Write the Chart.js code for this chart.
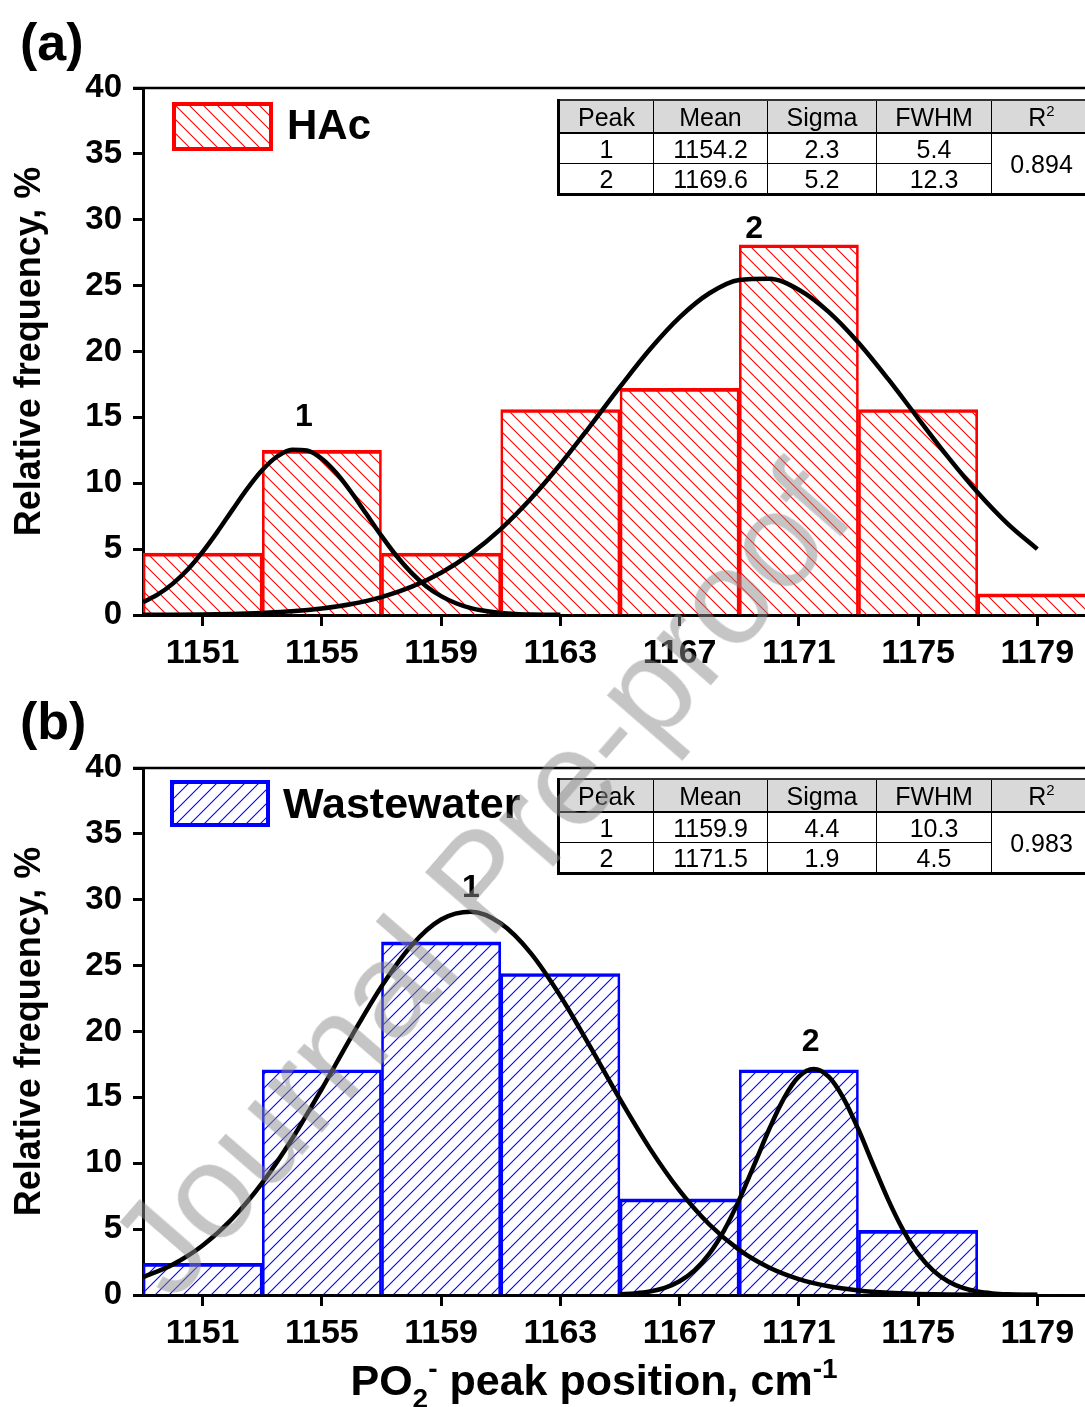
<!DOCTYPE html>
<html><head><meta charset="utf-8">
<script src="https://cdn.jsdelivr.net/npm/chart.js@4.4.0/dist/chart.umd.min.js"></script>
<style>
html,body{margin:0;padding:0;background:#fff;}
body{width:1085px;height:1407px;position:relative;overflow:hidden;font-family:"Liberation Sans",Arial,sans-serif;color:#000;}
canvas{position:absolute;left:0;}
canvas.sw{box-sizing:border-box;border:4px solid;}
.panel{position:absolute;font-weight:bold;font-size:52px;line-height:52px;}
.legtxt{position:absolute;font-weight:bold;font-size:42px;line-height:42px;white-space:nowrap;}
table.fit{position:absolute;left:557px;border-collapse:collapse;table-layout:fixed;width:533px;font-size:25px;}
table.fit td,table.fit th{border:1.5px solid #000;text-align:center;padding:0;font-weight:normal;line-height:24px;}
table.fit th{background:#d9d9d9;height:31px;border-bottom:2.5px solid #000;}
table.fit td{height:29px;}
table.fit tr>*:first-child{border-left:3px solid #000;}
table.fit tr:first-child>*{border-top:2px solid #333;}
table.fit tr:last-child>*, table.fit td.r2{border-bottom:3px solid #000;}
table.fit sup{font-size:15px;line-height:0;vertical-align:10px;}
.xtitle{position:absolute;left:0;width:1188px;text-align:center;top:1359px;font-weight:bold;font-size:43px;line-height:43px;white-space:nowrap;}
.xtitle .sb{font-size:28px;position:relative;top:13px;}
.xtitle .sp{font-size:28px;position:relative;top:-17px;}
.wm{position:absolute;left:480px;top:880px;transform:translate(-50%,-50%) rotate(-49deg);font-size:135px;line-height:135px;color:rgba(140,140,140,0.5);white-space:nowrap;pointer-events:none;}
</style></head>
<body>
<canvas id="cA" width="1085" height="690" style="top:0px"></canvas>
<canvas id="cB" width="1085" height="690" style="top:680px"></canvas>

<div class="panel" style="left:20px;top:16px">(a)</div>
<div class="panel" style="left:20px;top:695px">(b)</div>

<canvas class="sw" id="swA" width="93" height="41" style="left:172px;top:102px;width:101px;height:49px;border-color:#ff0000"></canvas>
<div class="legtxt" style="left:287px;top:104px">HAc</div>
<canvas class="sw" id="swB" width="92" height="39" style="left:170px;top:780px;width:100px;height:47px;border-color:#0000ff"></canvas>
<div class="legtxt" style="left:283px;top:782px;font-size:43px">Wastewater</div>

<table class="fit" id="tA" style="top:99px"></table>
<table class="fit" id="tB" style="top:778px"></table>

<div class="xtitle">PO<span class="sb">2</span><span class="sp">-</span> peak position, cm<span class="sp">-1</span></div>

<div class="wm">Journal Pre-proof</div>

<script>
// ---------------- data ----------------
const binCenters = [1151, 1155, 1159, 1163, 1167, 1171, 1175, 1179];
const xTickValues = [1151, 1155, 1159, 1163, 1167, 1171, 1175, 1179];
const yTickStep = 5;

const hacFreq = [4.7, 12.5, 4.7, 15.6, 17.2, 28.1, 15.6, 1.6];
const wwFreq  = [2.4, 17.1, 26.8, 24.4, 7.3, 17.1, 4.9, 0];

// fitted curves
const hacFit1X = [1149,1149.5,1150,1150.5,1151,1151.5,1152,1152.5,1153,1153.5,1154,1154.5,1155,1155.5,1156,1156.5,1157,1157.5,1158,1158.5,1159,1159.5,1160,1160.5,1161,1161.5,1162,1162.5,1163];
const hacFit1Y = [0.98,1.56,2.38,3.45,4.79,6.33,7.98,9.59,11.0,12.03,12.55,12.49,11.86,10.74,9.28,7.64,6.01,4.50,3.22,2.19,1.43,0.89,0.52,0.30,0.16,0.08,0.04,0.02,0.01];

const hacFit2X = [1149,1150,1151,1152,1153,1154,1155,1156,1157,1158,1159,1160,1161,1162,1163,1164,1165,1166,1167,1168,1169,1170,1171,1172,1173,1174,1175,1176,1177,1178,1179];
const hacFit2Y = [0.01,0.02,0.04,0.08,0.16,0.28,0.50,0.84,1.36,2.13,3.21,4.66,6.52,8.80,11.44,14.34,17.31,20.15,22.59,24.42,25.43,25.52,24.69,23.01,20.67,17.90,14.93,12.0,9.30,6.94,5.00];

const wwFit1X = [1149,1150,1151,1152,1153,1154,1155,1156,1157,1158,1159,1160,1161,1162,1163,1164,1165,1166,1167,1168,1169,1170,1171,1172,1173,1174,1175,1176,1177,1178,1179];
const wwFit1Y = [1.35,2.32,3.76,5.81,8.51,11.84,15.65,19.65,23.42,26.51,28.50,29.09,28.20,25.97,22.70,18.85,14.86,11.13,7.92,5.35,3.43,2.09,1.21,0.66,0.35,0.17,0.08,0.03,0.01,0.0,0.0];

const wwFit2X = [1165,1165.5,1166,1166.5,1167,1167.5,1168,1168.5,1169,1169.5,1170,1170.5,1171,1171.5,1172,1172.5,1173,1173.5,1174,1174.5,1175,1175.5,1176,1176.5,1177,1177.5,1178,1178.5,1179];
const wwFit2Y = [0.05,0.12,0.26,0.54,1.04,1.87,3.14,4.93,7.22,9.86,12.56,14.93,16.57,17.15,16.57,14.93,12.56,9.86,7.22,4.93,3.14,1.87,1.04,0.54,0.26,0.12,0.05,0.02,0.01];

// fit tables
const tablePeaks = ['1', '2'];
const hacMean  = ['1154.2', '1169.6'];
const hacSigma = ['2.3', '5.2'];
const hacFWHM  = ['5.4', '12.3'];
const hacR2    = '0.894';
const wwMean   = ['1159.9', '1171.5'];
const wwSigma  = ['4.4', '1.9'];
const wwFWHM   = ['10.3', '4.5'];
const wwR2     = '0.983';

// peak labels
const hacPeakText = ['1', '2'];
const hacPeakAt   = [[1154.4, 15.0], [1169.5, 29.3]];
const wwPeakText  = ['1', '2'];
const wwPeakAt    = [[1160.0, 30.9], [1171.4, 19.2]];

// ---------------- tables ----------------
function buildTable(id, mean, sigma, fwhm, r2) {
  let h = '<colgroup><col style="width:95px"><col style="width:114px"><col style="width:109px"><col style="width:115px"><col style="width:100px"></colgroup>';
  h += '<tr><th>Peak</th><th>Mean</th><th>Sigma</th><th>FWHM</th><th>R<sup>2</sup></th></tr>';
  tablePeaks.forEach((p, i) => {
    h += '<tr><td>' + p + '</td><td>' + mean[i] + '</td><td>' + sigma[i] + '</td><td>' + fwhm[i] + '</td>' +
      (i === 0 ? '<td class="r2" rowspan="2">' + r2 + '</td>' : '') + '</tr>';
  });
  document.getElementById(id).innerHTML = h;
}
buildTable('tA', hacMean, hacSigma, hacFWHM, hacR2);
buildTable('tB', wwMean, wwSigma, wwFWHM, wwR2);

// ---------------- chart ----------------
const FONT = '"Liberation Sans", Arial, sans-serif';

function hatchTile(color, dir) {
  const s = 14;
  const c = document.createElement('canvas');
  c.width = s; c.height = s;
  const g = c.getContext('2d');
  g.strokeStyle = color; g.lineWidth = 1.1;
  g.beginPath();
  if (dir === 'back') {
    g.moveTo(-1, -1); g.lineTo(s + 1, s + 1);
    g.moveTo(-1, s - 1); g.lineTo(1, s + 1);
    g.moveTo(s - 1, -1); g.lineTo(s + 1, 1);
  } else {
    g.moveTo(-1, s + 1); g.lineTo(s + 1, -1);
    g.moveTo(-1, 1); g.lineTo(1, -1);
    g.moveTo(s - 1, s + 1); g.lineTo(s + 1, s - 1);
  }
  g.stroke();
  return c;
}
function hatch(ctx, color, dir) { return ctx.createPattern(hatchTile(color, dir), 'repeat'); }

function drawSwatch(id, color, dir) {
  const cv = document.getElementById(id), g = cv.getContext('2d');
  g.fillStyle = '#fff'; g.fillRect(0, 0, cv.width, cv.height);
  g.fillStyle = hatch(g, color, dir); g.fillRect(0, 0, cv.width, cv.height);
}
drawSwatch('swA', '#ff0000', 'back');
drawSwatch('swB', '#0000ff', 'fwd');

const framePlugin = {
  id: 'frameTop',
  afterDraw(chart) {
    const a = chart.chartArea, ctx = chart.ctx;
    ctx.save();
    ctx.strokeStyle = '#000'; ctx.lineWidth = 2.5;
    ctx.beginPath(); ctx.moveTo(a.left - 10, a.top); ctx.lineTo(a.right, a.top); ctx.stroke();
    ctx.restore();
  }
};

function peakPlugin(texts, at) {
  return {
    id: 'peakLabels',
    afterDatasetsDraw(chart) {
      const ctx = chart.ctx, xs = chart.scales.x, ys = chart.scales.y;
      ctx.save();
      ctx.fillStyle = '#000';
      ctx.font = 'bold 32px ' + FONT;
      ctx.textAlign = 'center'; ctx.textBaseline = 'middle';
      texts.forEach((t, i) => ctx.fillText(t, xs.getPixelForValue(at[i][0]), ys.getPixelForValue(at[i][1])));
      ctx.restore();
    }
  };
}

function curve(xs, ys) {
  return {
    type: 'line',
    data: xs.map((x, i) => ({ x: x, y: ys[i] })),
    borderColor: '#000', borderWidth: 4.5, pointRadius: 0,
    cubicInterpolationMode: 'monotone', fill: false, order: 0
  };
}

function makeChart(id, freq, color, dir, fits, peakTexts, peakAt) {
  const ctx = document.getElementById(id).getContext('2d');
  const pat = hatch(ctx, color, dir);
  return new Chart(ctx, {
    type: 'bar',
    data: {
      datasets: [
        {
          type: 'bar',
          data: binCenters.map((x, i) => ({ x: x, y: freq[i] })),
          backgroundColor: pat,
          borderColor: color,
          borderWidth: c => (c.parsed && c.parsed.y === 0) ? 0 : { top: 3, left: 2, right: 2, bottom: 0 },
          borderSkipped: false,
          barPercentage: 1, categoryPercentage: 1,
          order: 1
        },
        curve(fits[0], fits[1]),
        curve(fits[2], fits[3])
      ]
    },
    options: {
      responsive: false, animation: false, devicePixelRatio: 1,
      layout: { padding: { top: 88, right: 0, left: 0, bottom: 0 } },
      plugins: { legend: { display: false }, tooltip: { enabled: false } },
      scales: {
        x: {
          type: 'linear', min: 1149, max: 1180.6, offset: false,
          afterBuildTicks: s => { s.ticks = xTickValues.map(v => ({ value: v })); },
          afterFit: s => { s.height = 75; },
          ticks: { autoSkip: false, maxRotation: 0, minRotation: 0, padding: 7, color: '#000',
                   callback: v => String(v),
                   font: { family: FONT, size: 34, weight: 'bold' } },
          grid: { display: true, drawOnChartArea: false, drawTicks: true, tickLength: 11, tickWidth: 3, tickColor: '#000', offset: false },
          border: { display: true, color: '#000', width: 3 }
        },
        y: {
          min: 0, max: 40,
          afterFit: s => { s.width = 143; },
          ticks: { stepSize: yTickStep, padding: 11, color: '#000', font: { family: FONT, size: 33, weight: 'bold' } },
          grid: { display: true, drawOnChartArea: false, drawTicks: true, tickLength: 10, tickWidth: 3, tickColor: '#000' },
          border: { display: true, color: '#000', width: 3 },
          title: { display: true, text: 'Relative frequency, %', color: '#000',
                   font: { family: FONT, size: 36, weight: 'bold' }, padding: { top: 8, bottom: 0 } }
        }
      }
    },
    plugins: [framePlugin, peakPlugin(peakTexts, peakAt)]
  });
}

makeChart('cA', hacFreq, '#ff0000', 'back', [hacFit1X, hacFit1Y, hacFit2X, hacFit2Y], hacPeakText, hacPeakAt);
makeChart('cB', wwFreq, '#0000ff', 'fwd', [wwFit1X, wwFit1Y, wwFit2X, wwFit2Y], wwPeakText, wwPeakAt);
</script>
</body></html>
